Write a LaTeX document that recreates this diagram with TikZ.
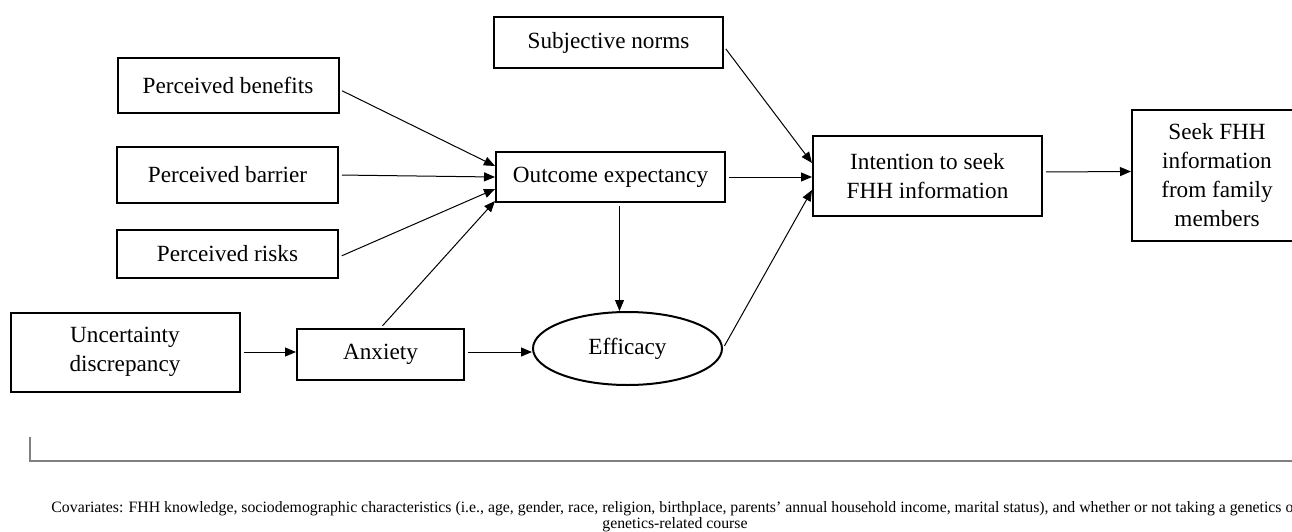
\documentclass[tikz,border=0pt]{standalone}
\usepackage{fontspec}
\setmainfont{Liberation Serif}
\usetikzlibrary{arrows.meta,shapes.geometric,positioning}

\begin{document}
\begin{tikzpicture}[x=0.5pt,y=-0.5pt,
		box/.style={draw,line width=1pt,inner sep=0pt,align=center,font=\fontsize{11.6}{14.5}\selectfont},
		arr/.style={-{Triangle[length=5.5pt,width=4.5pt]},line width=0.5pt,shorten <=1.5pt}]
		\def\wa{110.5pt}
		\def\wb{114.5pt}
		\useasboundingbox (0,0) rectangle (1292,531);
		\clip (0,0) rectangle (1292,531);
		% antecedents
		\node[box,minimum width=\wa,minimum height=27.5pt] (benefits) at (228,85.5) {Perceived benefits};
		\node[box,minimum width=\wa,minimum height=28pt] (barrier) at (227.5,175) {Perceived barrier};
		\node[box,minimum width=\wa,minimum height=24pt] (risks) at (227.5,254) {Perceived risks};
		\node[box,minimum width=\wb,minimum height=39.5pt] (uncert) at (125,352) {Uncertainty\\discrepancy};
		\node[box,minimum width=83.5pt,minimum height=25.5pt] (anxiety) at (380.5,354.5) {Anxiety};
		\node[box,minimum width=\wb,minimum height=25pt] (outcome) at (610.5,177) {Outcome expectancy};
		\node[box,ellipse,minimum width=94.5pt,minimum height=36.5pt] (efficacy) at (627.5,348.5) {Efficacy};
		\node[box,minimum width=\wb,minimum height=25.5pt] (norms) at (608.5,42.5) {Subjective norms};
		\node[box,minimum width=\wb,minimum height=40pt] (intent) at (927.5,176) {Intention to seek\\FHH information};
		\node[box,minimum width=85pt,minimum height=65.5pt] (seek) at (1217,175.5) {Seek FHH\\information\\from family\\members};
		% paths into outcome expectancy
		\draw[arr] ([yshift=-2pt]benefits.east) -- ([yshift=5.5pt]outcome.west);
		\draw[arr] (barrier.east) -- (outcome.west);
		\draw[arr] ([yshift=-1.5pt]risks.east) -- ([yshift=-6pt]outcome.west);
		\draw[arr] (anxiety.north) -- ([yshift=-12pt]outcome.west);
		% lower chain
		\draw[arr] (uncert.east) -- (uncert.east -| anxiety.west);
		\draw[arr] ([yshift=1.25pt]anxiety.east) -- ([yshift=1.25pt]anxiety.east -| efficacy.west);
		\draw[arr] ([xshift=4.5pt]outcome.south) -- ([xshift=4.5pt]outcome.south |- efficacy.north);
		% paths into intention
		\draw[arr] ([yshift=-2pt]norms.east) -- ([yshift=6.5pt]intent.west);
		\draw[arr] (outcome.east) -- ([yshift=-0.5pt]intent.west);
		\draw[arr] (efficacy.east) -- ([yshift=-7pt]intent.west);
		\draw[arr] ([yshift=2pt]intent.east) -- ([yshift=2pt]seek.west);
		% covariates
		\draw[line width=1pt,black!50] (30,437) -- (30,461) -- (1300,461);
		\node[inner sep=0pt,align=center,font=\fontsize{7.9}{8}\selectfont] (cov) at (675,517) {Covariates: FHH knowledge, sociodemographic characteristics (i.e., age, gender, race, religion, birthplace, parents' annual household income, marital status), and whether or not taking a genetics or\\genetics-related course};
	\end{tikzpicture}
\end{document}
